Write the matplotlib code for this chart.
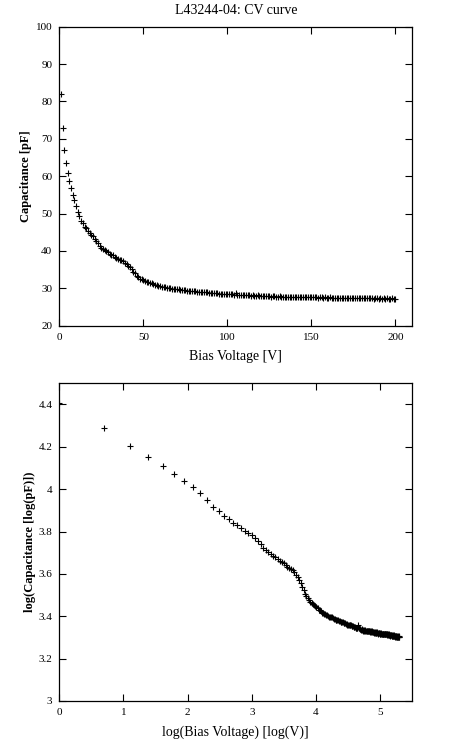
import numpy as np
import matplotlib
matplotlib.use("Agg")
import matplotlib.pyplot as plt
from matplotlib.ticker import FormatStrFormatter, MultipleLocator

plt.rcParams['font.family'] = ['Liberation Serif', 'DejaVu Serif']

# tensao de polarizacao (V), passo de 1 V
bias = np.arange(1, 201)

cap = [
    82.0, 73.0, 67.0, 63.6, 60.8, 58.7, 56.8, 55.1, 53.7, 51.9,
    50.3, 49.3, 48.1, 47.4, 46.5, 46.1, 45.4, 44.9, 44.3, 43.9,
    43.3, 42.7, 42.2, 41.4, 40.9, 40.6, 40.2, 39.9, 39.6, 39.3,
    38.9, 38.8, 38.5, 38.2, 37.9, 37.7, 37.5, 37.2, 36.9, 36.4,
    36.0, 35.6, 35.1, 34.4, 34.0, 33.3, 32.9, 32.6, 32.4, 32.1,
    31.9, 31.7, 31.6, 31.4, 31.3, 31.1, 30.9, 30.8, 30.7, 30.5,
    30.4, 30.3, 30.3, 30.2, 30.1, 30.0, 29.9, 29.9, 29.8, 29.8,
    29.7, 29.6, 29.6, 29.5, 29.5, 29.4, 29.4, 29.3, 29.3, 29.2,
    29.2, 29.1, 29.1, 29.0, 29.0, 29.0, 28.9, 28.9, 28.8, 28.8,
    28.8, 28.7, 28.7, 28.7, 28.6, 28.6, 28.6, 28.5, 28.5, 28.5,
    28.4, 28.4, 28.4, 28.3, 28.8, 28.3, 28.3, 28.2, 28.2, 28.1,
    28.2, 28.1, 28.1, 28.0, 28.1, 28.0, 28.0, 28.1, 28.0, 27.9,
    28.0, 27.9, 27.9, 28.0, 27.9, 27.8, 27.9, 27.9, 27.8, 27.8,
    27.9, 27.8, 27.8, 27.7, 27.8, 27.8, 27.7, 27.8, 27.7, 27.7,
    27.8, 27.7, 27.7, 27.6, 27.7, 27.7, 27.6, 27.7, 27.6, 27.6,
    27.7, 27.6, 27.6, 27.5, 27.6, 27.6, 27.5, 27.6, 27.5, 27.5,
    27.6, 27.5, 27.5, 27.4, 27.5, 27.5, 27.4, 27.5, 27.4, 27.4,
    27.5, 27.4, 27.4, 27.3, 27.4, 27.4, 27.3, 27.4, 27.3, 27.3,
    27.4, 27.3, 27.3, 27.4, 27.3, 27.3, 27.2, 27.3, 27.3, 27.2,
    27.3, 27.2, 27.3, 27.2, 27.3, 27.2, 27.2, 27.3, 27.2, 27.2,
]
cap = np.array(cap)

fig = plt.figure(figsize=(4.53, 7.48), dpi=100)
W, H = 453.0, 748.0

# eixo superior: curva CV linear
ax1 = fig.add_axes([59.3 / W, 1 - 325.7 / H, 353 / W, 299 / H])
# eixo inferior: log-log
ax2 = fig.add_axes([59.3 / W, 1 - 701 / H, 353 / W, 317.7 / H])

ax1.plot(bias, cap, '+', color='black', markersize=5, markeredgewidth=0.8)
ax1.set_xlim(0, 210)
ax1.set_ylim(20, 100)
ax1.xaxis.set_major_locator(MultipleLocator(50))
ax1.yaxis.set_major_locator(MultipleLocator(10))
ax1.set_title("L43244-04: CV curve", fontsize=10, pad=9)
ax1.set_xlabel("Bias Voltage [V]", fontsize=10, labelpad=6)
ax1.set_ylabel("Capacitance [pF]", fontsize=9, labelpad=3, fontweight='bold')

ax2.plot(np.log(bias), np.log(cap), '+', color='black', markersize=5, markeredgewidth=0.8)
ax2.set_xlim(0, 5.5)
ax2.set_ylim(3, 4.5)
ax2.xaxis.set_major_locator(MultipleLocator(1))
ax2.yaxis.set_major_locator(MultipleLocator(0.2))
ax2.yaxis.set_major_formatter(FormatStrFormatter('%g'))
ax2.set_xlabel("log(Bias Voltage) [log(V)]", fontsize=10, labelpad=6)
ax2.set_ylabel("log(Capacitance [log(pF)])", fontsize=9, labelpad=2, fontweight='bold')

for ax in (ax1, ax2):
    ax.tick_params(direction='in', top=True, right=True, length=5, width=0.8,
                   labelsize=8, pad=5)
    for s in ax.spines.values():
        s.set_linewidth(0.9)

# tira o rotulo 4.5 (gnuplot nao mostra)
labels = ax2.get_yticks()
ax2.set_yticks(labels[(labels >= 3) & (labels <= 4.45)])
ax2.set_ylim(3, 4.5)

fig.savefig("out.png", dpi=100)
